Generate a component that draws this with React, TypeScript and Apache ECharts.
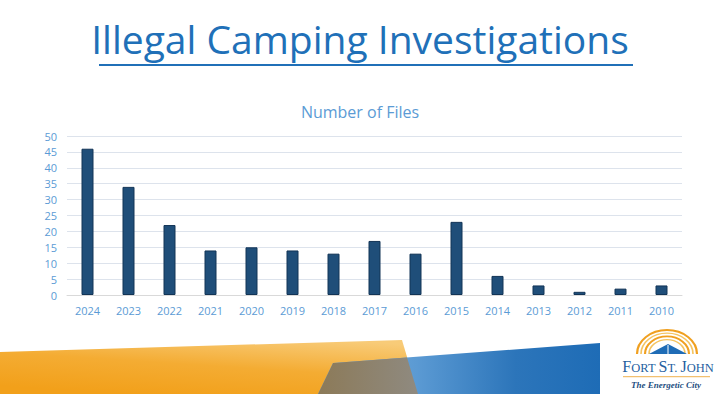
import React, { useEffect, useRef } from "react";
import * as echarts from "echarts";

const categories = ["2024","2023","2022","2021","2020","2019","2018","2017","2016","2015","2014","2013","2012","2011","2010"];
const files = [46, 34, 22, 14, 15, 14, 13, 17, 13, 23, 6, 3, 1, 2, 3];
const yTicks = { min: 0, max: 50, interval: 5 };

export default function App() {
  const ref = useRef<HTMLDivElement>(null);
  useEffect(() => {
    if (!ref.current) return;
    const chart = echarts.init(ref.current, null, { renderer: "svg" });
    const font = "'Open Sans', sans-serif";
    const serif = "'Liberation Serif', 'DejaVu Serif', serif";
    chart.setOption({
      animation: false,
      backgroundColor: "#ffffff",
      title: {
        text: "Number of Files",
        left: "center",
        top: 99,
        textStyle: { color: "#5b9bd5", fontSize: 16, fontWeight: "normal", fontFamily: font },
      },
      grid: { left: 67, right: 38, top: 136, bottom: 99 },
      xAxis: {
        type: "category",
        data: categories,
        axisLine: { lineStyle: { color: "#d9d9d9" } },
        axisTick: { show: false },
        axisLabel: { color: "#5b9bd5", fontSize: 11, fontFamily: font, margin: 10 },
      },
      yAxis: {
        type: "value",
        min: yTicks.min,
        max: yTicks.max,
        interval: yTicks.interval,
        axisLine: { show: false },
        axisTick: { show: false },
        splitLine: { lineStyle: { color: "#dde3ec" } },
        axisLabel: { color: "#5b9bd5", fontSize: 11, fontFamily: font, margin: 10 },
      },
      series: [
        {
          type: "bar",
          data: files,
          barWidth: 12,
          itemStyle: { color: "#1f4e79", borderColor: "#123456", borderWidth: 1 },
        },
      ],
      graphic: [
        {
          type: "text",
          left: "center",
          top: 19,
          style: { text: "Illegal Camping Investigations", fill: "#2070b8", font: `39px ${font}` },
        },
        { type: "rect", shape: { x: 99, y: 64, width: 534, height: 2 }, style: { fill: "#2070b8" } },
        {
          type: "polygon",
          shape: { points: [[0, 352], [402, 340], [418, 394], [0, 394]] },
          style: {
            fill: new echarts.graphic.LinearGradient(0.3, 1, 0.8, 0, [
              { offset: 0, color: "#f2a01a" },
              { offset: 0.5, color: "#f4ac33" },
              { offset: 1, color: "#f8cb78" },
            ]),
          },
        },
        {
          type: "polygon",
          shape: { points: [[333, 363], [600, 343], [600, 394], [318, 394]] },
          style: {
            fill: new echarts.graphic.LinearGradient(0, 0, 1, 0, [
              { offset: 0, color: "#7fb2df" },
              { offset: 0.35, color: "#5b9ad3" },
              { offset: 0.7, color: "#2c75ba" },
              { offset: 1, color: "#1e6cb6" },
            ]),
          },
        },
        {
          type: "polygon",
          shape: { points: [[333, 363], [407, 357.5], [418, 394], [318, 394]] },
          style: {
            fill: new echarts.graphic.LinearGradient(0, 0, 1, 0, [
              { offset: 0, color: "#8c7a58" },
              { offset: 1, color: "#8f8a80" },
            ]),
          },
        },
        ...[30, 26, 22, 18].map((r, i) => ({
          type: "arc",
          x: 667,
          y: 354,
          scaleY: 0.8,
          shape: { cx: 0, cy: 0, r, startAngle: Math.PI, endAngle: 2 * Math.PI },
          style: { stroke: i % 2 === 0 ? "#f0a020" : "#f5c460", lineWidth: i % 2 === 0 ? 2.2 : 1.6, fill: "none" },
        })),
        {
          type: "polygon",
          shape: { points: [[649, 354], [668, 344], [687, 354]] },
          style: { fill: "#1f6cb6" },
        },
        { type: "line", shape: { x1: 668, y1: 345, x2: 668, y2: 354 }, style: { stroke: "#ffffff", lineWidth: 1 } },
        {
          type: "text",
          x: 668,
          y: 366,
          style: {
            text: "{b|F}{s|ORT }{b|S}{s|T. }{b|J}{s|OHN}",
            align: "center",
            verticalAlign: "middle",
            rich: {
              b: { font: `16px ${serif}`, fill: "#1f5f9f", verticalAlign: "bottom" },
              s: { font: `12.5px ${serif}`, fill: "#1f5f9f", verticalAlign: "bottom" },
            },
          },
        },
        { type: "rect", shape: { x: 623, y: 376, width: 87, height: 1.2 }, style: { fill: "#f2c070" } },
        {
          type: "text",
          x: 666,
          y: 385,
          style: {
            text: "The Energetic City",
            fill: "#1f4f7f",
            font: `italic bold 9px ${serif}`,
            align: "center",
            verticalAlign: "middle",
          },
        },
      ],
    });
    return () => chart.dispose();
  }, []);
  return <div ref={ref} style={{ position: "absolute", left: 0, top: 0, width: 720, height: 394 }} />;
}
